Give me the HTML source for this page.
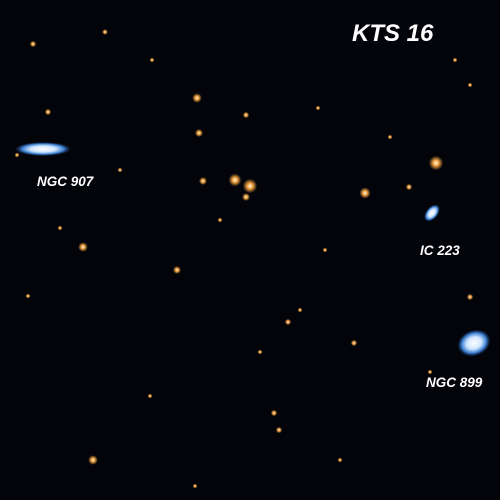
<!DOCTYPE html>
<html><head><meta charset="utf-8"><style>
html,body{margin:0;padding:0;background:#000;}
svg{display:block;}
text{font-family:"Liberation Sans",sans-serif;font-weight:bold;font-style:italic;fill:#fff;}
</style></head><body>
<svg width="500" height="500" viewBox="0 0 500 500">
<defs>
<radialGradient id="star" cx="50%" cy="50%" r="50%">
<stop offset="0" stop-color="#fff8e0"/><stop offset="0.4" stop-color="#f0a040"/><stop offset="1" stop-color="#f0a040" stop-opacity="0"/>
</radialGradient>
<radialGradient id="gal" cx="50%" cy="50%" r="50%">
<stop offset="0" stop-color="#ffffff"/><stop offset="0.45" stop-color="#cfe6ff"/><stop offset="0.75" stop-color="#3a7fd0"/><stop offset="1" stop-color="#1a3f80" stop-opacity="0"/>
</radialGradient>
</defs>
<rect width="500" height="500" fill="#03040a"/>
<g id="stars"></g>
<ellipse cx="43" cy="149" rx="28" ry="7" fill="url(#gal)"/>
<ellipse cx="432" cy="213" rx="10" ry="6" transform="rotate(-50 432 213)" fill="url(#gal)"/>
<ellipse cx="474" cy="343" rx="17" ry="13" transform="rotate(-20 474 343)" fill="url(#gal)"/>
<text x="352" y="41" font-size="24">KTS 16</text>
<text x="37" y="186" font-size="13.5">NGC 907</text>
<text x="420" y="255" font-size="13.5">IC 223</text>
<text x="426" y="387" font-size="13.5">NGC 899</text>
</svg>
<script>
const starX=[197,246,199,235,250,203,246,365,436,83,177,93,288,354,279,274,48,33,105,470,260,300,17,152,318,409,390,430,150,60,220,340,470,28,120,455,195,325];
const starY=[98,115,133,180,186,181,197,193,163,247,270,460,322,343,430,413,112,44,32,297,352,310,155,60,108,187,137,372,396,228,220,460,85,296,170,60,486,250];
const starR=[3,2,2.5,4,4.5,2.5,2.5,3.5,4.5,3,2.5,3,2,2,2,2,2,2,1.8,2,1.5,1.5,1.5,1.5,1.5,2,1.5,1.5,1.5,1.5,1.5,1.5,1.5,1.5,1.5,1.5,1.5,1.5];
const g=document.getElementById('stars');
for(let i=0;i<starX.length;i++){
  const c=document.createElementNS('http://www.w3.org/2000/svg','circle');
  c.setAttribute('cx',starX[i]);c.setAttribute('cy',starY[i]);c.setAttribute('r',starR[i]*1.6);
  c.setAttribute('fill','url(#star)');
  
  
  g.appendChild(c);
}
</script>
</body></html>
